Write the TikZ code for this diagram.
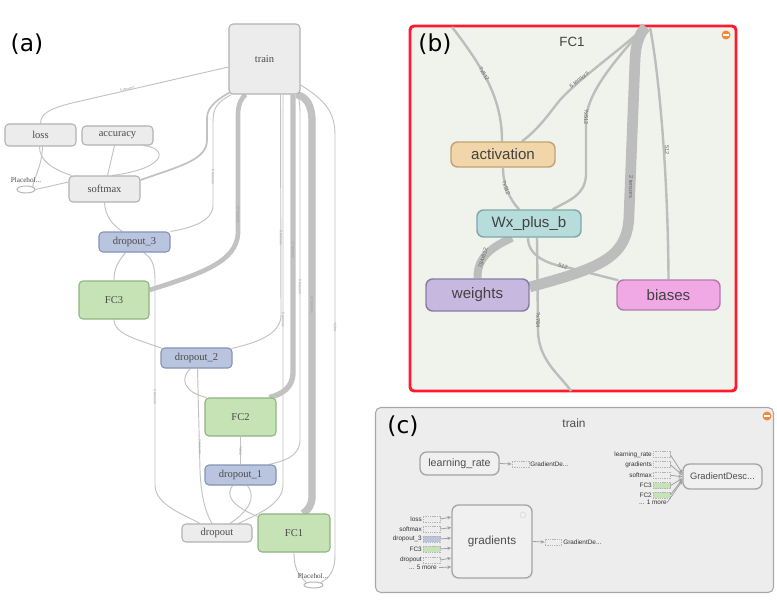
\documentclass[tikz,border=0pt]{standalone}
\usepackage{fontspec}
\setmainfont{Liberation Sans}
\newfontfamily\seriff{Liberation Serif}
\newfontfamily\dejav{DejaVu Sans}
\usetikzlibrary{calc,arrows.meta,shapes.geometric,backgrounds}
\definecolor{agray}{HTML}{ECECEC}
\definecolor{abord}{HTML}{B2B2B2}
\definecolor{atext}{HTML}{4A4A4A}
\definecolor{dfill}{HTML}{B9C5DE}
\definecolor{dbord}{HTML}{8593B3}
\definecolor{ffill}{HTML}{C5E3B5}
\definecolor{fbord}{HTML}{8FB482}
\definecolor{ecol}{HTML}{C2C2C2}
\definecolor{lblc}{HTML}{9A9A9A}
\definecolor{bred}{HTML}{FF1A2E}
\definecolor{bbg}{HTML}{EFF3EC}
\definecolor{btext}{HTML}{424242}
\definecolor{becol}{HTML}{BDBDBD}
\definecolor{blabc}{HTML}{666666}
\definecolor{actf}{HTML}{F1D6A9}
\definecolor{actd}{HTML}{C2A375}
\definecolor{wxf}{HTML}{B7DCDC}
\definecolor{wxd}{HTML}{7FA9A8}
\definecolor{wf}{HTML}{C7B8E0}
\definecolor{wd}{HTML}{8A7AA6}
\definecolor{bf}{HTML}{F1A9E5}
\definecolor{bd}{HTML}{B47AAC}
\definecolor{cfill}{HTML}{EDEDED}
\definecolor{cbord}{HTML}{A8A8A8}
\definecolor{cnfill}{HTML}{F0F0F0}
\definecolor{cnbord}{HTML}{A4A4A4}
\definecolor{ctext}{HTML}{4E4E4E}
\definecolor{ctiny}{HTML}{333333}
\definecolor{cdash}{HTML}{B5B5B5}
\definecolor{carrc}{HTML}{A0A0A0}
\definecolor{minusc}{HTML}{F08A3A}
\tikzset{
 sz/.style 2 args={minimum width=#1*0.75pt, minimum height=#2*0.75pt},
 abox/.style={draw=abord, fill=agray, line width=0.8pt, rounded corners=3pt, inner sep=0pt, text=atext, font=\seriff\fontsize{7.9}{9}\selectfont},
 dbox/.style={abox, fill=dfill, draw=dbord},
 fbox/.style={abox, fill=ffill, draw=fbord},
 phold/.style={ellipse, draw=abord, fill=white, line width=0.7pt, inner sep=0pt},
 phtext/.style={font=\seriff\fontsize{5.4}{6}\selectfont, text=atext, inner sep=0pt},
 ae/.style={draw=ecol, line width=0.7pt},
 tinylab/.style={font=\fontsize{2.6}{3}\selectfont, text=lblc, inner sep=0pt},
 panel/.style={font=\dejav\fontsize{17.5}{20}\selectfont, text=black, inner sep=0pt},
 bnode/.style 2 args={fill=#1, draw=#2, line width=1.1pt, rounded corners=5pt, inner sep=0pt, text=btext, font=\fontsize{11.3}{13}\selectfont},
 be/.style={draw=becol, line width=1.8pt},
 blab/.style={font=\fontsize{4.2}{5}\selectfont, text=blabc, inner sep=0pt},
 cnode/.style={draw=cnbord, fill=cnfill, line width=1pt, rounded corners=5pt, inner sep=0pt, text=ctext},
 cin/.style={draw=cdash, dashed, dash pattern=on 1pt off 0.7pt, line width=0.45pt, inner sep=0pt, sz={17}{6}},
 ctl/.style={font=\fontsize{4.8}{5.5}\selectfont, text=ctiny, inner sep=0pt},
 carr/.style={draw=carrc, line width=0.6pt, -{Stealth[length=3pt,width=2.6pt]}},
 minus/.style={circle, fill=minusc, inner sep=0pt, minimum size=9*0.75pt}
}
\begin{document}
\begin{tikzpicture}[x=0.75pt,y=-0.75pt]
\begin{pgfonlayer}{background}
\fill[white] (0,0) rectangle (777,613);
\node[draw=bred, fill=bbg, line width=2.2pt, rounded corners=3pt, sz={326}{365}] (fcbox) at (573,208.5) {};
\node[draw=cbord, fill=cfill, line width=0.8pt, rounded corners=4pt, sz={398}{185}] (trainbox) at (574.5,500) {};
\end{pgfonlayer}
\useasboundingbox (0,0) rectangle (777,613);

% panel labels
\node[panel] (la) at (27,44) {(a)};
\node[panel] (lb) at (435,44) {(b)};
\node[panel] (lc) at (403,426) {(c)};

% ---------- (a) nodes ----------
\node[abox,sz={71}{70}] (train) at (264.5,59) {train};
\node[abox,sz={71}{22}] (loss) at (40.5,135) {loss};
\node[abox,sz={71}{19}] (accuracy) at (117.5,135.5) {accuracy};
\node[abox,sz={71}{26}] (softmax) at (104.5,189) {softmax};
\node[dbox,sz={71}{20}] (dropout3) at (134.5,242) {dropout\_3};
\node[fbox,sz={70}{38}] (fc3) at (114,300) {FC3};
\node[dbox,sz={71}{20}] (dropout2) at (196.5,358) {dropout\_2};
\node[fbox,sz={71}{38}] (fc2) at (240.5,417) {FC2};
\node[dbox,sz={71}{20}] (dropout1) at (240.5,475) {dropout\_1};
\node[abox,sz={70}{18}] (dropout) at (217,533) {dropout};
\node[fbox,sz={72}{38}] (fc1) at (294,533) {FC1};
\node[phold,sz={18}{7}] (ph1) at (26,189.5) {};
\node[phtext] (ph1t) at (26,180) {Placehol...};
\node[phold,sz={19}{6}] (ph2) at (313.5,585) {};
\node[phtext] (ph2t) at (313,576) {Placehol...};

% ---------- (b) nodes ----------
\node[font=\fontsize{10}{12}\selectfont, text=btext] (fctitle) at (572,42) {FC1};
\node[minus] (bmin) at (726,35) {};
\draw[white, line width=1.2pt] ($(bmin.west)+(2,0)$) -- ($(bmin.east)+(-2,0)$);
\node[bnode={actf}{actd}, sz={104}{25}] (activation) at (503,154.5) {activation};
\node[bnode={wxf}{wxd}, sz={104}{27}] (wx) at (529,223.5) {Wx\_plus\_b};
\node[bnode={wf}{wd}, sz={103}{32}] (weights) at (477.5,295) {weights};
\node[bnode={bf}{bd}, sz={103}{30}] (biases) at (668.5,295) {biases};
\coordinate (btop) at (645,27);
\coordinate (bin) at (452,27);
\coordinate (bout) at (571,391);

% ---------- (c) nodes ----------
\node[font=\fontsize{8.9}{10}\selectfont, text=ctext] (ctitle) at (574,423) {train};
\node[minus] (cmin) at (767,416) {};
\draw[white, line width=1.2pt] ($(cmin.west)+(2,0)$) -- ($(cmin.east)+(-2,0)$);
\node[cnode, sz={79}{23}, font=\fontsize{8}{9}\selectfont] (lr) at (459.5,463.5) {learning\_rate};
\node[cnode, sz={80}{73}, font=\fontsize{8.8}{10}\selectfont] (grad) at (492,541.5) {gradients};
\node[circle, draw=cnbord!40, line width=0.5pt, minimum size=6*0.75pt, inner sep=0pt] (gicon) at (523,515) {};
\node[cnode, sz={79}{25}, font=\fontsize{7}{8}\selectfont] (gd) at (722.5,476.5) {GradientDesc...};
\node[cin] (lrout) at (520.5,464) {};
\node[ctl, anchor=west] (lroutt) at (530,464) {GradientDe...};
\node[cin, sz={16}{6}] (gout) at (553,542) {};
\node[ctl, anchor=west] (goutt) at (563,542.5) {GradientDe...};
\draw[carr] (lr.east) -- (lrout.west);
\draw[carr] (grad.east) -- (gout.west);
% gradients inputs
\node[cin] (gi1) at (431.5,519) {};
\node[cin] (gi2) at (431.5,529) {};
\node[cin, fill=dfill] (gi3) at (431.5,539) {};
\node[cin, fill=ffill] (gi4) at (431.5,549) {};
\node[cin] (gi5) at (431.5,560) {};
\node[ctl, anchor=east] (gl1) at (422,519) {loss};
\node[ctl, anchor=east] (gl2) at (422,529) {softmax};
\node[ctl, anchor=east] (gl3) at (422,539) {dropout\_3};
\node[ctl, anchor=east] (gl4) at (422,549) {FC3};
\node[ctl, anchor=east] (gl5) at (422,560) {dropout};
\node[ctl, anchor=east] (gl6) at (437,567.5) {... 5 more};
\draw[carr] (gi1.east) -- ($(grad.west)+(0,-24.5)$);
\draw[carr] (gi2.east) -- ($(grad.west)+(0,-14)$);
\draw[carr] (gi3.east) -- ($(grad.west)+(0,-3.5)$);
\draw[carr] (gi4.east) -- ($(grad.west)+(0,6.5)$);
\draw[carr] (gi5.east) -- ($(grad.west)+(0,16.5)$);
\draw[carr] ($(gl6.east)+(2,0)$) -- ($(grad.west)+(0,25.5)$);
% GradientDescent inputs
\node[cin] (ri1) at (661.5,454.7) {};
\node[cin] (ri2) at (661.5,464.7) {};
\node[cin] (ri3) at (661.5,475.3) {};
\node[cin, fill=ffill] (ri4) at (661.5,485.7) {};
\node[cin, fill=ffill] (ri5) at (661.5,495) {};
\node[ctl, anchor=east] (rl1) at (652,454.7) {learning\_rate};
\node[ctl, anchor=east] (rl2) at (652,464.7) {gradients};
\node[ctl, anchor=east] (rl3) at (652,475.3) {softmax};
\node[ctl, anchor=east] (rl4) at (652,485.7) {FC3};
\node[ctl, anchor=east] (rl5) at (652,495) {FC2};
\node[ctl, anchor=east] (rl6) at (667,502.7) {... 1 more};
\draw[carr] (ri1.east) -- ($(gd.west)+(0,-3.2)$);
\draw[carr] (ri2.east) -- ($(gd.west)+(0,-1.5)$);
\draw[carr] (ri3.east) -- ($(gd.west)+(0,0.2)$);
\draw[carr] (ri4.east) -- ($(gd.west)+(0,1.8)$);
\draw[carr] (ri5.east) -- ($(gd.west)+(0,2.8)$);
\draw[carr] (rl6.east) -- ($(gd.west)+(0,4.2)$);

\begin{pgfonlayer}{background}
% ---------- (a) edges ----------
\draw[ae] ($(train.west)+(0,8)$) -- (72,103) .. controls (48,109) and (41,114) .. (loss.north);
\draw[ae] ($(loss.south)+(-1,0)$) .. controls (39,160) and (52,169) .. ($(softmax.north west)+(3,0)$);
\draw[ae] ($(loss.south)+(2,0)$) .. controls (42,166) and (34,178) .. (ph1.north east);
\draw[ae] (ph1.east) -- ($(softmax.west)+(0,-7)$);
\draw[ae] ($(accuracy.south)+(-3,0)$) -- ($(softmax.north)+(3,0)$);
\draw[ae] ($(accuracy.south)+(26,0)$) .. controls (168,148) and (168,168) .. ($(softmax.north)+(8,0)$);
\draw[ae, line width=1.3pt] ($(softmax.east)+(0,-9)$) .. controls (180,166) and (207,160) .. (207,140) -- (207,118) .. controls (207,105) and (222,97) .. ($(train.south west)+(1,-2)$);
\draw[ae] ($(train.south west)+(3,0)$) .. controls (217,102) and (213,108) .. (213,122) -- (213,205) .. controls (213,222) and (190,228) .. (dropout3.north east);
\draw[ae] (softmax.south) .. controls (105,215) and (112,225) .. ($(dropout3.north)+(-12,0)$);
\draw[ae] ($(dropout3.south)+(-9,0)$) .. controls (118,262) and (114,268) .. (fc3.north);
\draw[ae] ($(dropout3.south)+(9,0)$) .. controls (152,258) and (155,265) .. (155,280) -- (155,485) .. controls (155,505) and (185,515) .. ($(dropout.north)+(-17,0)$);
\draw[ae, line width=3.5pt] ($(fc3.east)+(0,-10)$) .. controls (200,274) and (237,262) .. (238,233) -- (238,115) .. controls (238,103) and (242,98) .. ($(train.south)+(-19,0)$);
\draw[ae] (fc3.south) .. controls (114,335) and (140,340) .. ($(dropout2.north west)+(2,1)$);
\draw[ae] ($(train.south)+(16,0)$) -- (281,315) .. controls (281,335) and (255,343) .. ($(dropout2.north east)+(-1,1)$);
\draw[ae] ($(train.south)+(18.5,0)$) -- (283,485) .. controls (283,505) and (255,515) .. ($(dropout.north east)+(-14,0)$);
\draw[ae] ($(dropout2.south)+(-6,0)$) .. controls (180,378) and (183,392) .. ($(fc2.north west)+(2,0)$);
\draw[ae] ($(dropout2.south)+(1,0)$) -- (200,470) .. controls (201,500) and (207,515) .. ($(dropout.north)+(-5,0)$);
\draw[ae, line width=4pt] ($(train.south)+(28.5,0)$) -- (293,372) .. controls (293,388) and (282,394) .. ($(fc2.north east)+(-7,0)$);
\draw[ae] (fc2.south) -- (dropout1.north);
\draw[ae] ($(train.south)+(33,0)$) .. controls (299.5,100) and (300,105) .. (300,115) -- (300,440) .. controls (300,458) and (280,462) .. ($(dropout1.north east)+(-8,0)$);
\draw[ae] ($(dropout1.south)+(-8,0)$) .. controls (226,495) and (230,505) .. ($(fc1.north west)+(0,3)$);
\draw[ae] ($(dropout1.south)+(7,0)$) .. controls (256,497) and (250,510) .. ($(dropout.north)+(13,0)$);
\draw[ae, line width=5.5pt] ($(train.south east)+(-4,0)$) .. controls (306,97) and (312,104) .. (312,122) -- (312,497) .. controls (312,505) and (308,510) .. ($(fc1.north)+(9,0)$);
\draw[ae] ($(train.east)+(0,26)$) .. controls (325,100) and (335,112) .. (335,135) -- (335,555) .. controls (335,570) and (330,578) .. (ph2.north east);
\draw[ae] (fc1.south) .. controls (294,568) and (298,575) .. (ph2.north west);
% ---------- (b) edges ----------
\draw[be] (bin) .. controls (485,70) and (502,100) .. ($(activation.north)+(-1,0)$);
\draw[be] ($(activation.north)+(19,0)$) .. controls (540,128) and (550,112) .. (560,100) .. controls (580,78) and (620,50) .. (btop);
\draw[be] ($(wx.north east)+(-29,0)$) .. controls (570,200) and (585,195) .. (586,175) -- (586,120) .. controls (587,95) and (610,65) .. (btop);
\draw[be, line width=8pt] ($(weights.east)+(0,-8)$) .. controls (600,268) and (628,258) .. (629,215) -- (635,60) .. controls (636,40) and (641,32) .. ($(btop)+(1,0)$);
\draw[be] (biases.north) .. controls (668,180) and (660,80) .. ($(btop)+(5,0)$);
\draw[be] (activation.south) .. controls (503,185) and (510,200) .. ($(wx.north)+(-10,0)$);
\draw[be, line width=6pt] ($(wx.south)+(-17,0)$) .. controls (490,248) and (477,258) .. (weights.north);
\draw[be] ($(wx.south)+(-1,0)$) .. controls (528,255) and (545,264) .. (570,268) -- ($(biases.north west)+(2,1)$);
\draw[be] ($(wx.south)+(8,0)$) -- (538,330) .. controls (538,360) and (560,375) .. (bout);
\end{pgfonlayer}

% tiny edge labels (a)
\node[tinylab, rotate=13] at (127,89) {5 tensors};
\node[tinylab, rotate=-90] at (213,177) {5 tensors};
\node[tinylab, rotate=-90] at (238,215) {27 tensors};
\node[tinylab, rotate=-90] at (281,238) {5 tensors};
\node[tinylab, rotate=-90] at (293,250) {27 tensors};
\node[tinylab, rotate=-90] at (300,287) {5 tensors};
\node[tinylab, rotate=-90] at (312,305) {27 tensors};
\node[tinylab, rotate=-90] at (283,320) {5 tensors};
\node[tinylab, rotate=-90] at (335,327) {?x784};
\node[tinylab, rotate=-90] at (155,397) {2 tensors};
\node[tinylab, rotate=-90] at (200,447) {2 tensors};
\node[tinylab, rotate=-90] at (240.5,451) {?x512};
% edge labels (b)
\node[blab, rotate=-58] at (484,74) {?x512};
\node[blab, rotate=40] at (579,80) {6 tensors};
\node[blab, rotate=-90] at (586,117) {?x512};
\node[blab, rotate=-90] at (631,187) {2 tensors};
\node[blab, rotate=-90] at (667,150) {512};
\node[blab, rotate=-70] at (506,188) {?x512};
\node[blab, rotate=74] at (483,258) {784x512};
\node[blab, rotate=-20] at (563,266) {512};
\node[blab, rotate=-90] at (538,320) {?x784};
\end{tikzpicture}
\end{document}
